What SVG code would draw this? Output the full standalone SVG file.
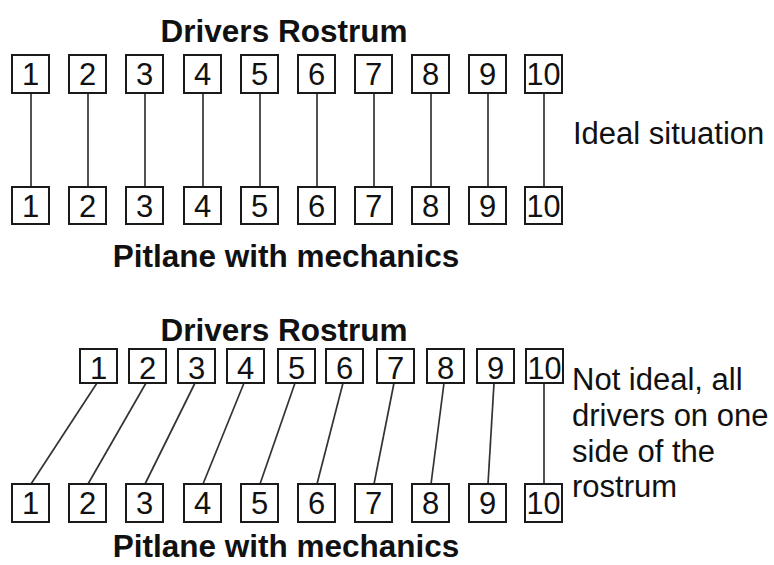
<svg xmlns="http://www.w3.org/2000/svg" width="774" height="565" viewBox="0 0 774 565">
<style>
.box{fill:#fff;stroke:#1a1a1a;stroke-width:2}
.num{font-family:"Liberation Sans",Arial,sans-serif;font-size:31px;fill:#111;text-anchor:middle}
.title{font-family:"Liberation Sans",Arial,sans-serif;font-size:31.5px;font-weight:bold;fill:#111;text-anchor:middle}
.note{font-family:"Liberation Sans",Arial,sans-serif;font-size:31px;fill:#111}
.con line{stroke:#333;stroke-width:1.7}
</style>
<rect width="774" height="565" fill="#fff"/>
<text class="title" x="284" y="42">Drivers Rostrum</text>
<text class="title" x="286" y="267">Pitlane with mechanics</text>
<text class="note" x="573" y="144">Ideal situation</text>
<text class="title" x="284" y="341">Drivers Rostrum</text>
<text class="title" x="286" y="557">Pitlane with mechanics</text>
<text class="note" x="572" y="390">Not ideal, all</text>
<text class="note" x="572" y="426">drivers on one</text>
<text class="note" x="572" y="462">side of the</text>
<text class="note" x="572" y="497">rostrum</text>
<g id="connectors" class="con">
<line x1="31" y1="93" x2="31" y2="187"/>
<line x1="88" y1="93" x2="88" y2="187"/>
<line x1="145" y1="93" x2="145" y2="187"/>
<line x1="203" y1="93" x2="203" y2="187"/>
<line x1="260" y1="93" x2="260" y2="187"/>
<line x1="317" y1="93" x2="317" y2="187"/>
<line x1="374" y1="93" x2="374" y2="187"/>
<line x1="431" y1="93" x2="431" y2="187"/>
<line x1="488" y1="93" x2="488" y2="187"/>
<line x1="544" y1="93" x2="544" y2="187"/>
<line x1="97" y1="383" x2="31" y2="484"/>
<line x1="146" y1="383" x2="88" y2="484"/>
<line x1="195" y1="383" x2="145" y2="484"/>
<line x1="244" y1="383" x2="203" y2="484"/>
<line x1="295" y1="383" x2="260" y2="484"/>
<line x1="343" y1="383" x2="317" y2="484"/>
<line x1="394" y1="383" x2="374" y2="484"/>
<line x1="444" y1="383" x2="431" y2="484"/>
<line x1="494" y1="383" x2="488" y2="484"/>
<line x1="544" y1="383" x2="544" y2="484"/>
</g>
<g id="top1"><rect class="box" x="12" y="55" width="37" height="38"/><text class="num" x="30.5" y="85">1</text></g>
<g id="top2"><rect class="box" x="69" y="55" width="37" height="38"/><text class="num" x="87.5" y="85">2</text></g>
<g id="top3"><rect class="box" x="126" y="55" width="37" height="38"/><text class="num" x="144.5" y="85">3</text></g>
<g id="top4"><rect class="box" x="184" y="55" width="37" height="38"/><text class="num" x="202.5" y="85">4</text></g>
<g id="top5"><rect class="box" x="241" y="55" width="37" height="38"/><text class="num" x="259.5" y="85">5</text></g>
<g id="top6"><rect class="box" x="298" y="55" width="37" height="38"/><text class="num" x="316.5" y="85">6</text></g>
<g id="top7"><rect class="box" x="355" y="55" width="37" height="38"/><text class="num" x="373.5" y="85">7</text></g>
<g id="top8"><rect class="box" x="412" y="55" width="37" height="38"/><text class="num" x="430.5" y="85">8</text></g>
<g id="top9"><rect class="box" x="469" y="55" width="37" height="38"/><text class="num" x="487.5" y="85">9</text></g>
<g id="top10"><rect class="box" x="525" y="55" width="37" height="38"/><text class="num" x="543.5" y="85" textLength="34" lengthAdjust="spacingAndGlyphs">10</text></g>
<g id="pit1"><rect class="box" x="12" y="187" width="37" height="37"/><text class="num" x="30.5" y="217">1</text></g>
<g id="pit2"><rect class="box" x="69" y="187" width="37" height="37"/><text class="num" x="87.5" y="217">2</text></g>
<g id="pit3"><rect class="box" x="126" y="187" width="37" height="37"/><text class="num" x="144.5" y="217">3</text></g>
<g id="pit4"><rect class="box" x="184" y="187" width="37" height="37"/><text class="num" x="202.5" y="217">4</text></g>
<g id="pit5"><rect class="box" x="241" y="187" width="37" height="37"/><text class="num" x="259.5" y="217">5</text></g>
<g id="pit6"><rect class="box" x="298" y="187" width="37" height="37"/><text class="num" x="316.5" y="217">6</text></g>
<g id="pit7"><rect class="box" x="355" y="187" width="37" height="37"/><text class="num" x="373.5" y="217">7</text></g>
<g id="pit8"><rect class="box" x="412" y="187" width="37" height="37"/><text class="num" x="430.5" y="217">8</text></g>
<g id="pit9"><rect class="box" x="469" y="187" width="37" height="37"/><text class="num" x="487.5" y="217">9</text></g>
<g id="pit10"><rect class="box" x="525" y="187" width="37" height="37"/><text class="num" x="543.5" y="217" textLength="34" lengthAdjust="spacingAndGlyphs">10</text></g>
<g id="rost1"><rect class="box" x="80" y="349" width="37" height="34"/><text class="num" x="98.5" y="379">1</text></g>
<g id="rost2"><rect class="box" x="129" y="349" width="37" height="34"/><text class="num" x="147.5" y="379">2</text></g>
<g id="rost3"><rect class="box" x="178" y="349" width="37" height="34"/><text class="num" x="196.5" y="379">3</text></g>
<g id="rost4"><rect class="box" x="227" y="349" width="37" height="34"/><text class="num" x="245.5" y="379">4</text></g>
<g id="rost5"><rect class="box" x="278" y="349" width="37" height="34"/><text class="num" x="296.5" y="379">5</text></g>
<g id="rost6"><rect class="box" x="326" y="349" width="37" height="34"/><text class="num" x="344.5" y="379">6</text></g>
<g id="rost7"><rect class="box" x="377" y="349" width="37" height="34"/><text class="num" x="395.5" y="379">7</text></g>
<g id="rost8"><rect class="box" x="427" y="349" width="37" height="34"/><text class="num" x="445.5" y="379">8</text></g>
<g id="rost9"><rect class="box" x="477" y="349" width="37" height="34"/><text class="num" x="495.5" y="379">9</text></g>
<g id="rost10"><rect class="box" x="526" y="349" width="37" height="34"/><text class="num" x="544.5" y="379" textLength="34" lengthAdjust="spacingAndGlyphs">10</text></g>
<g id="lane1"><rect class="box" x="12" y="484" width="37" height="38"/><text class="num" x="30.5" y="514">1</text></g>
<g id="lane2"><rect class="box" x="69" y="484" width="37" height="38"/><text class="num" x="87.5" y="514">2</text></g>
<g id="lane3"><rect class="box" x="126" y="484" width="37" height="38"/><text class="num" x="144.5" y="514">3</text></g>
<g id="lane4"><rect class="box" x="184" y="484" width="37" height="38"/><text class="num" x="202.5" y="514">4</text></g>
<g id="lane5"><rect class="box" x="241" y="484" width="37" height="38"/><text class="num" x="259.5" y="514">5</text></g>
<g id="lane6"><rect class="box" x="298" y="484" width="37" height="38"/><text class="num" x="316.5" y="514">6</text></g>
<g id="lane7"><rect class="box" x="355" y="484" width="37" height="38"/><text class="num" x="373.5" y="514">7</text></g>
<g id="lane8"><rect class="box" x="412" y="484" width="37" height="38"/><text class="num" x="430.5" y="514">8</text></g>
<g id="lane9"><rect class="box" x="469" y="484" width="37" height="38"/><text class="num" x="487.5" y="514">9</text></g>
<g id="lane10"><rect class="box" x="525" y="484" width="37" height="38"/><text class="num" x="543.5" y="514" textLength="34" lengthAdjust="spacingAndGlyphs">10</text></g>
</svg>
